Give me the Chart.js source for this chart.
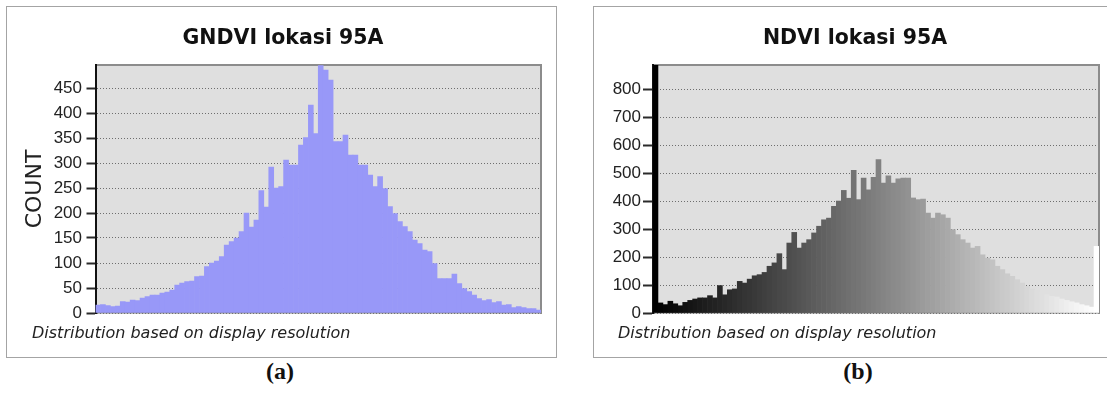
<!DOCTYPE html>
<html>
<head>
<meta charset="utf-8">
<title>GNDVI / NDVI lokasi 95A</title>
<script src="https://cdn.jsdelivr.net/npm/chart.js@4.4.1/dist/chart.umd.min.js"></script>
<style>
  html, body { margin: 0; padding: 0; background: #fff; }
  body { width: 1107px; height: 394px; position: relative; overflow: hidden; }
  .panel { position: absolute; top: 6px; height: 350px; border: 1px solid #a4a4a4; background: #fff; }
  #panelA { left: 6px; width: 549px; }
  #panelB { left: 593px; width: 518px; }
  .panel canvas { display: block; }
  .footer { position: absolute; top: 323px; line-height: 20px; white-space: nowrap;
            font: italic 16px "DejaVu Sans", Verdana, sans-serif; color: #222; }
  .caption { position: absolute; top: 358px; line-height: 26px; font: bold 24px "Liberation Serif", "Times New Roman", serif; color: #111; transform: translateX(-50%); }
</style>
</head>
<body>
<div class="panel" id="panelA"><canvas id="gndviChart" width="549" height="350"></canvas></div>
<div class="panel" id="panelB"><canvas id="ndviChart" width="518" height="350"></canvas></div>
<div class="footer" id="footerA" style="left:32px"></div>
<div class="footer" id="footerB" style="left:618px"></div>
<div class="caption" style="left:280px">(a)</div>
<div class="caption" style="left:858px">(b)</div>

<script>
// Histogram counts per display bin
const gndviCounts = [
  16, 17, 15, 13, 14, 23, 22, 26, 25, 30,
  33, 36, 36, 40, 42, 46, 56, 60, 63, 64,
  73, 74, 93, 100, 104, 113, 136, 143, 150, 163,
  200, 172, 186, 245, 212, 292, 250, 253, 306, 296,
  296, 336, 351, 416, 359, 495, 486, 466, 343, 343,
  356, 316, 316, 296, 296, 276, 253, 273, 249, 213,
  199, 183, 173, 163, 146, 139, 126, 123, 99, 69,
  69, 69, 78, 59, 49, 43, 36, 29, 25, 27,
  21, 23, 16, 17, 11, 13, 11, 9, 9, 6
];
const ndviCounts = [
  900, 36, 30, 42, 33, 26, 38, 45, 50, 54,
  54, 62, 54, 98, 65, 83, 86, 113, 107, 121,
  133, 137, 145, 167, 179, 212, 155, 250, 288, 232,
  250, 262, 286, 310, 333, 339, 381, 400, 438, 410,
  510, 405, 482, 440, 485, 548, 464, 490, 464, 479,
  482, 482, 411, 405, 407, 357, 339, 357, 351, 339,
  298, 280, 262, 250, 232, 238, 208, 196, 190, 167,
  155, 140, 131, 119, 107, 95, 86, 81, 74, 65,
  60, 57, 50, 45, 40, 36, 30, 26, 21, 238
];

// Bin indices along the value axis
const gndviBins = gndviCounts.map((_, i) => i);
const ndviBins = ndviCounts.map((_, i) => i);

// Count axis tick labels and upper bounds
const gndviTicks = [0, 50, 100, 150, 200, 250, 300, 350, 400, 450];
const ndviTicks = [0, 100, 200, 300, 400, 500, 600, 700, 800];
const gndviMax = 496;
const ndviMax = 886;

const titleText = ['GNDVI lokasi 95A', 'NDVI lokasi 95A'];
const footerText = 'Distribution based on display resolution';
const countLabel = 'COUNT';

document.getElementById('footerA').textContent = footerText;
document.getElementById('footerB').textContent = footerText;

// Fill the plotting area with the light grey panel colour
const plotBackground = {
  id: 'plotBackground',
  beforeDraw(chart, args, opts) {
    const { ctx, chartArea: a } = chart;
    ctx.save();
    ctx.fillStyle = opts.color;
    ctx.fillRect(a.left, a.top, a.right - a.left, a.bottom - a.top);
    ctx.restore();
  }
};

// Frame-only axis: draws its border line and takes no room
function frameAxis(type, position, max) {
  const axis = {
    type,
    position,
    ticks: { display: false },
    grid: { display: false, drawTicks: false, tickLength: 0 },
    border: { display: true, color: '#8c8c8c', width: 2 }
  };
  if (type === 'linear') { axis.min = 0; axis.max = max; } else { axis.offset = true; }
  return axis;
}

function histogramChart(canvasId, cfg) {
  return new Chart(document.getElementById(canvasId), {
    type: 'bar',
    data: {
      labels: cfg.bins,
      datasets: [{
        data: cfg.counts,
        backgroundColor: cfg.colors,
        borderWidth: 0,
        barPercentage: 1,
        categoryPercentage: 1
      }]
    },
    plugins: [plotBackground],
    options: {
      responsive: false,
      animation: false,
      devicePixelRatio: 1,
      layout: { padding: { left: cfg.padLeft, right: cfg.padRight, top: 0, bottom: 44 } },
      plugins: {
        legend: { display: false },
        tooltip: { enabled: false },
        plotBackground: { color: '#dfdfdf' },
        title: {
          display: true,
          text: cfg.title,
          color: '#111',
          font: { family: '"DejaVu Sans", Verdana, sans-serif', size: 20.5, weight: 'bold', lineHeight: 1.2 },
          padding: { top: 19.2, bottom: 14.2 }
        }
      },
      scales: {
        x: {
          type: 'category',
          offset: true,
          ticks: { display: false },
          grid: { display: false, drawTicks: false, tickLength: 0 },
          border: { display: true, color: '#777', width: 1.5 }
        },
        xTop: frameAxis('category', 'top'),
        y: {
          type: 'linear',
          min: 0,
          max: cfg.max,
          afterBuildTicks(scale) { scale.ticks = cfg.ticks.map(v => ({ value: v })); },
          afterFit(scale) { scale.width = cfg.axisWidth; },
          ticks: {
            color: '#222',
            padding: cfg.tickPad,
            font: { family: '"Liberation Sans", Arial, sans-serif', size: 17 }
          },
          grid: {
            color: '#6e6e6e',
            lineWidth: 1,
            tickLength: cfg.tickLength,
            tickColor: '#2a2a2a',
            tickWidth: 2
          },
          border: { display: true, color: '#111', width: 2, dash: [1, 2] },
          title: cfg.axisTitle ? {
            display: true,
            text: cfg.axisTitle,
            color: '#222',
            font: { family: '"DejaVu Sans", Verdana, sans-serif', size: 22, lineHeight: 1.2 },
            padding: { top: cfg.axisTitlePad, bottom: 0 }
          } : { display: false }
        },
        yRight: frameAxis('linear', 'right', cfg.max)
      }
    }
  });
}

histogramChart('gndviChart', {
  bins: gndviBins,
  counts: gndviCounts,
  colors: '#9898f8',
  title: titleText[0],
  max: gndviMax,
  ticks: gndviTicks,
  padLeft: 18,
  padRight: 15,
  axisWidth: 70.5,
  tickLength: 9,
  tickPad: 4.5,
  axisTitle: countLabel,
  axisTitlePad: -3.2
});

// NDVI bins shade from black to white across the value range
const ndviColors = ndviBins.map(i => {
  const g = Math.round(255 * i / (ndviBins.length - 1));
  return `rgb(${g},${g},${g})`;
});

histogramChart('ndviChart', {
  bins: ndviBins,
  counts: ndviCounts,
  colors: ndviColors,
  title: titleText[1],
  max: ndviMax,
  ticks: ndviTicks,
  padLeft: 17,
  padRight: 13,
  axisWidth: 42,
  tickLength: 10,
  tickPad: 2,
  axisTitle: null,
  axisTitlePad: 0
});
</script>
</body>
</html>
